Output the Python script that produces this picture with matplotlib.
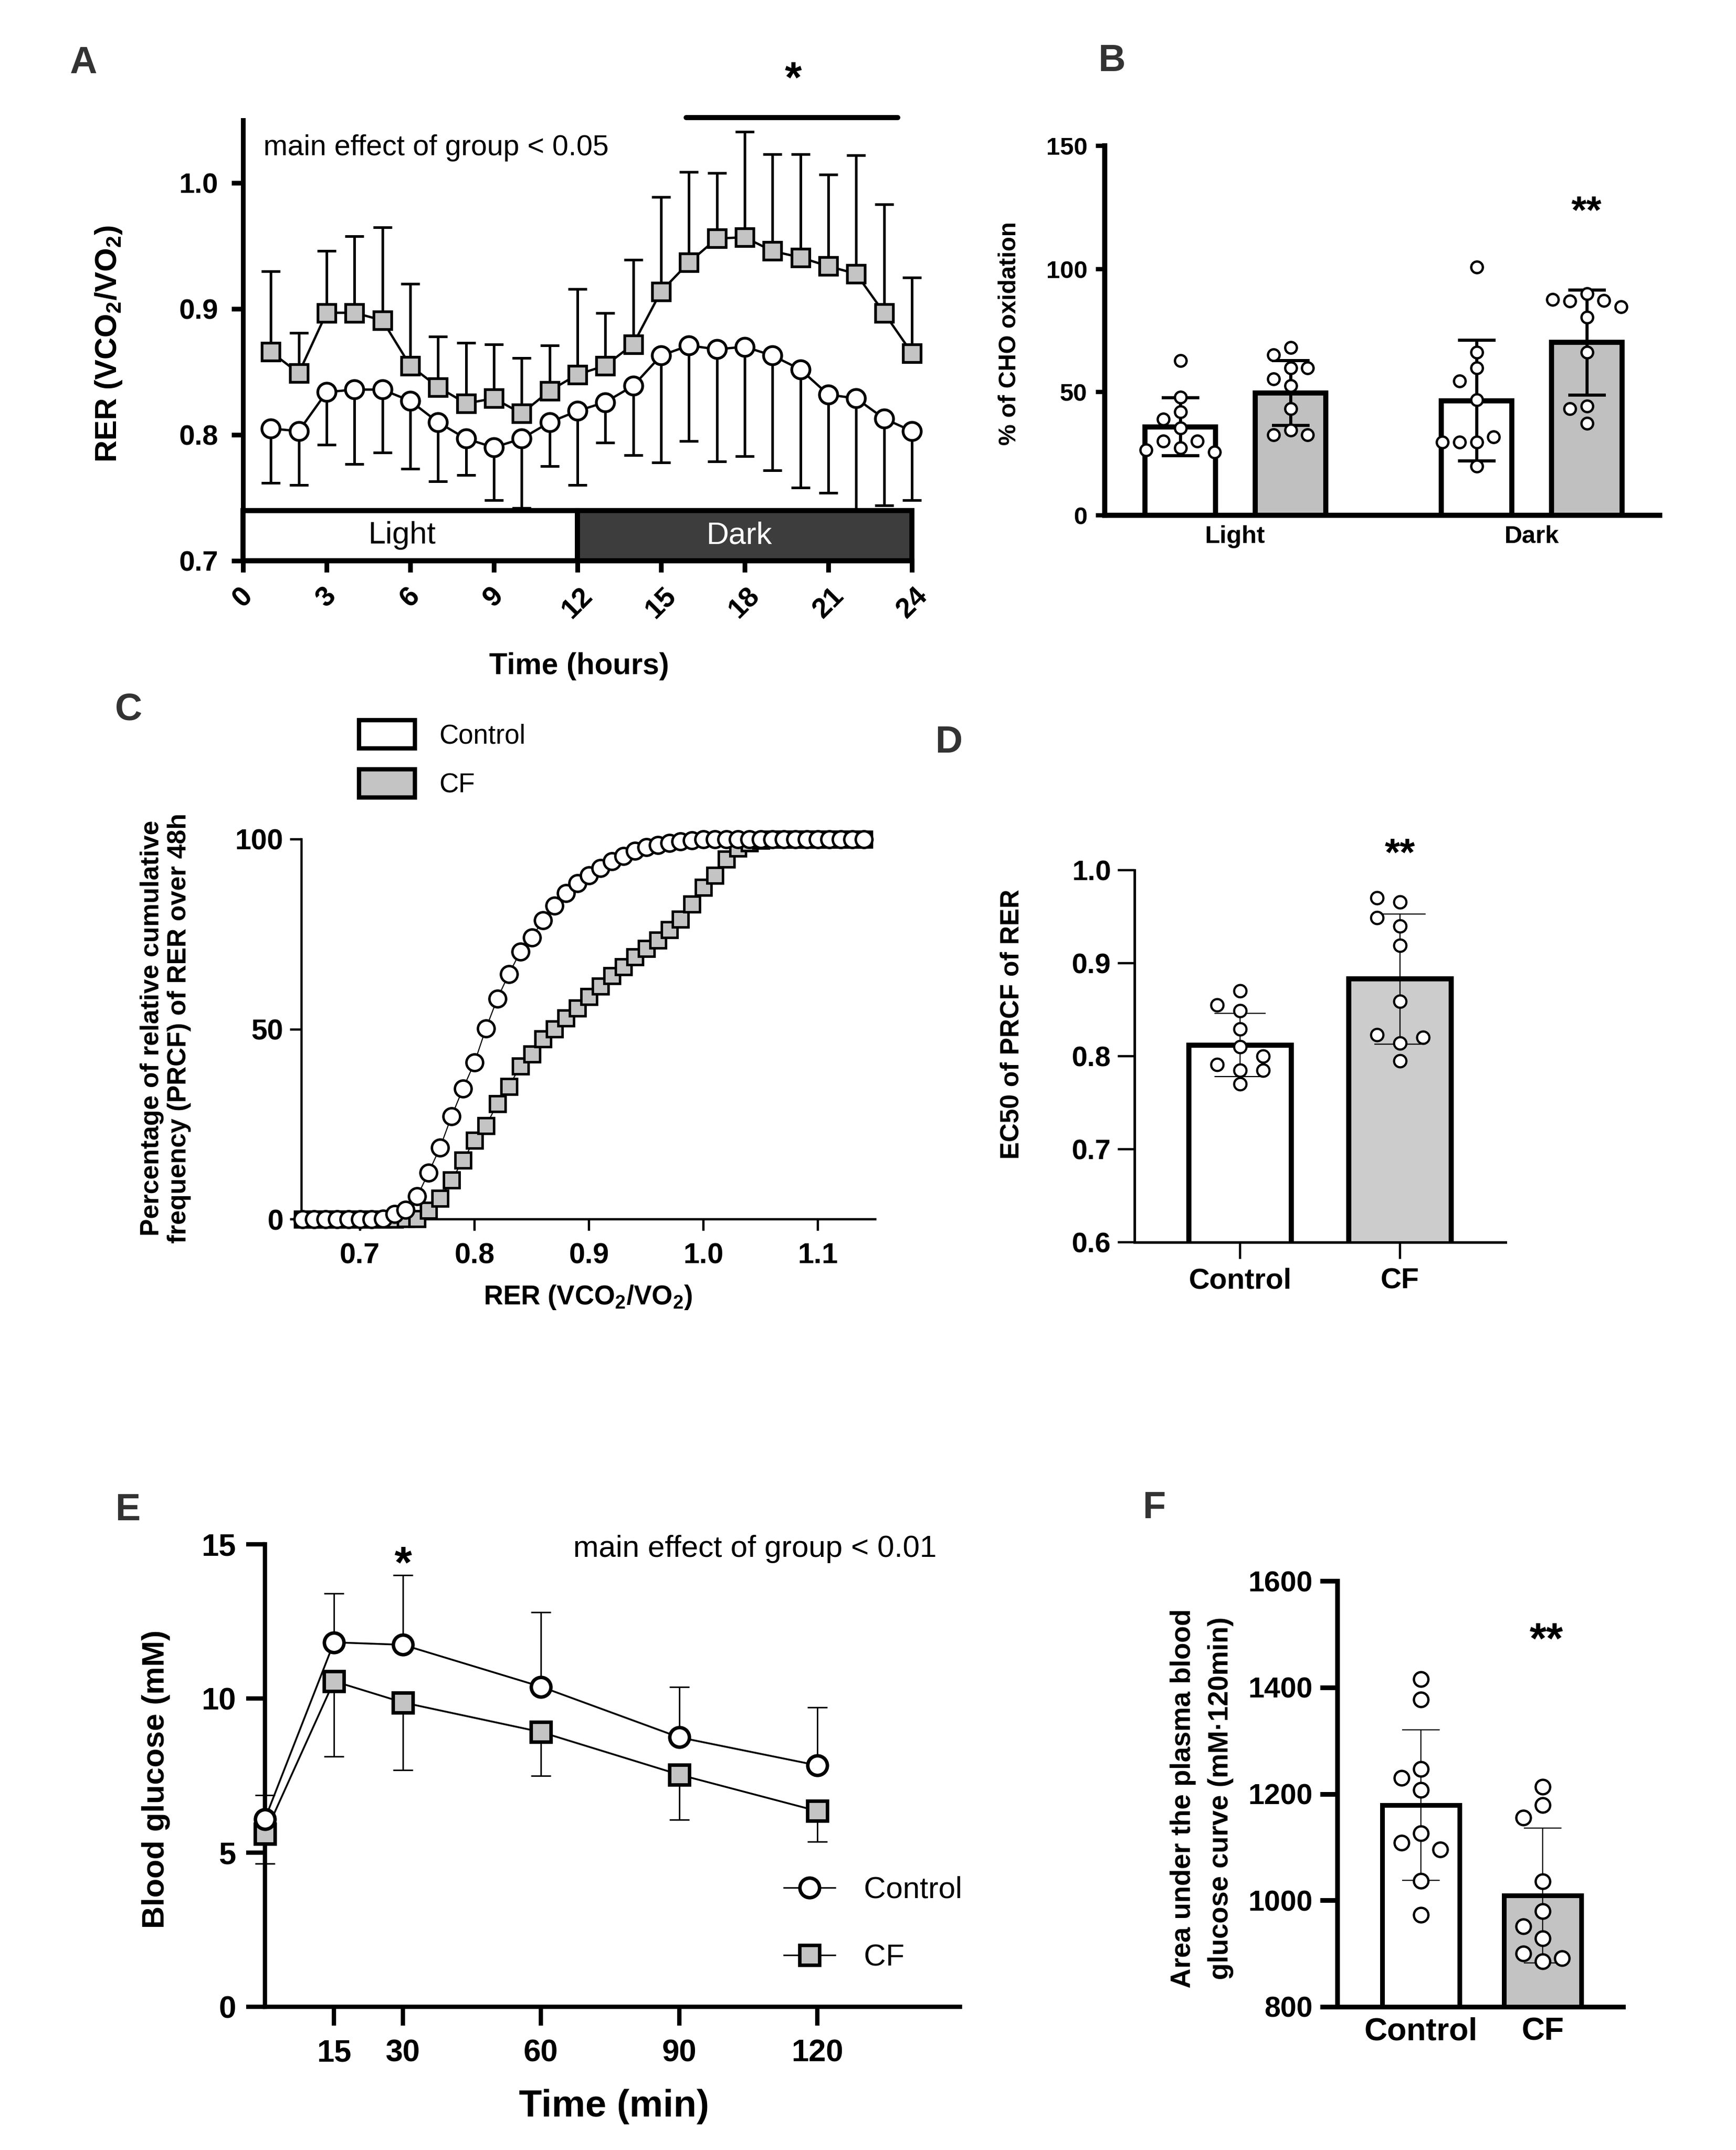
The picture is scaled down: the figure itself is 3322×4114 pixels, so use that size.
import numpy as np
import matplotlib
matplotlib.use("Agg")
import matplotlib.pyplot as plt
from matplotlib.patches import Rectangle, Patch
from matplotlib.lines import Line2D

plt.rcParams['font.family'] = ['Liberation Sans', 'DejaVu Sans']
plt.rcParams['mathtext.fontset'] = 'custom'
plt.rcParams['mathtext.rm'] = 'Liberation Sans'
plt.rcParams['mathtext.bf'] = 'Liberation Sans:bold'

# ---------------- data ----------------
# A: hourly RER
hours = list(range(1, 25))
cf_rer = [0.866, 0.849, 0.897, 0.897, 0.891, 0.855, 0.838, 0.825, 0.829, 0.817, 0.835, 0.848,
          0.855, 0.872, 0.914, 0.937, 0.956, 0.957, 0.946, 0.941, 0.934, 0.928, 0.897, 0.865]
cf_rer_sd = [0.064, 0.032, 0.049, 0.061, 0.074, 0.065, 0.040, 0.048, 0.043, 0.044, 0.036, 0.068,
             0.042, 0.067, 0.075, 0.072, 0.052, 0.084, 0.077, 0.082, 0.073, 0.094, 0.086, 0.060]
ctrl_rer = [0.805, 0.803, 0.834, 0.836, 0.836, 0.827, 0.810, 0.797, 0.790, 0.797, 0.810, 0.819,
            0.826, 0.839, 0.863, 0.871, 0.868, 0.870, 0.863, 0.852, 0.832, 0.829, 0.813, 0.803]
ctrl_rer_sd = [0.043, 0.043, 0.042, 0.059, 0.050, 0.054, 0.047, 0.029, 0.042, 0.055, 0.035, 0.059,
               0.032, 0.055, 0.085, 0.076, 0.089, 0.087, 0.091, 0.094, 0.078, 0.092, 0.069, 0.055]

# B: % CHO oxidation
phases = ['Light', 'Dark']
cho_ctrl_mean = [35.9, 46.5]
cho_ctrl_sd = [11.8, 24.5]
cho_cf_mean = [49.7, 70.2]
cho_cf_sd = [13.2, 21.3]
cho_ctrl_light = [62.8, 47.9, 42.1, 39.1, 35.4, 30.2, 30.2, 27.4, 26.5, 25.7]
cho_cf_light = [68.1, 65.1, 59.8, 59.8, 55.4, 52.7, 43.3, 34.5, 32.7, 32.7]
cho_ctrl_dark = [100.8, 66.3, 59.8, 54.5, 46.9, 29.7, 29.7, 31.8, 29.7, 20.0]
cho_cf_dark = [89.9, 86.9, 87.3, 87.7, 84.6, 80.5, 66.3, 44.4, 43.3, 37.3]

# C: cumulative frequency of RER
rer_bins = [0.65, 0.66, 0.67, 0.68, 0.69, 0.70, 0.71, 0.72, 0.73, 0.74,
            0.75, 0.76, 0.77, 0.78, 0.79, 0.80, 0.81, 0.82, 0.83, 0.84,
            0.85, 0.86, 0.87, 0.88, 0.89, 0.90, 0.91, 0.92, 0.93, 0.94,
            0.95, 0.96, 0.97, 0.98, 0.99, 1.00, 1.01, 1.02, 1.03, 1.04,
            1.05, 1.06, 1.07, 1.08, 1.09, 1.10, 1.11, 1.12, 1.13, 1.14]
prcf_ctrl = [0, 0, 0, 0, 0, 0, 0, 0.2, 1.4, 2.5,
             6.0, 12.3, 18.9, 27.1, 34.4, 41.2, 50.2, 58.1, 64.5, 70.4,
             74.2, 78.7, 82.5, 85.9, 88.5, 90.5, 92.4, 94.2, 95.6, 97.0,
             97.9, 98.5, 99.1, 99.4, 99.7, 100, 100, 100, 100, 100,
             100, 100, 100, 100, 100, 100, 100, 100, 100, 100]
prcf_cf = [0, 0, 0, 0, 0, 0, 0, 0, 0, 0.1,
           0.2, 2.3, 5.5, 10.3, 15.5, 20.8, 24.6, 30.4, 34.9, 40.3,
           43.5, 47.5, 50.1, 52.9, 55.6, 58.6, 61.3, 64.1, 66.4, 69.0,
           71.2, 73.5, 76.2, 79.0, 83.0, 87.3, 90.5, 94.8, 97.6, 99.1,
           99.7, 100, 100, 100, 100, 100, 100, 100, 100, 100]

# D: EC50
groups = ['Control', 'CF']
ec50_mean = [0.812, 0.883]
ec50_sd = [0.034, 0.070]
ec50_ctrl = [0.870, 0.849, 0.855, 0.829, 0.810, 0.785, 0.770, 0.791, 0.800, 0.785]
ec50_cf = [0.940, 0.919, 0.859, 0.814, 0.795, 0.823, 0.820, 0.949, 0.966, 0.970]

# E: glucose tolerance
gtt_time = [0, 15, 30, 60, 90, 120]
glu_ctrl = [6.09, 11.82, 11.74, 10.38, 8.74, 7.83]
glu_ctrl_sd = [0.78, 1.58, 2.26, 2.42, 1.63, 1.89]
glu_cf = [5.61, 10.56, 9.87, 8.91, 7.53, 6.35]
glu_cf_sd = [0.96, 2.44, 2.19, 1.41, 1.47, 1.00]

# F: AUC
auc_mean = [1179, 1009]
auc_sd = [141, 127]
auc_ctrl = [1415, 1377, 1247, 1230, 1207, 1126, 1108, 1095, 1037, 973]
auc_cf = [1213, 1179, 1155, 1036, 980, 951, 929, 900, 885, 891]

# ---------------- helpers ----------------
W, H = 3322, 4114
GRAY = '#c4c4c4'
fig = plt.figure(figsize=(W / 100, H / 100), dpi=100)


def add_ax(l, t, r, b):
    return fig.add_axes([l / W, 1 - b / H, (r - l) / W, (b - t) / H])


def clean(ax, lw, tlen, tw, size, pad):
    for s in ['top', 'right']:
        ax.spines[s].set_visible(False)
    for s in ['left', 'bottom']:
        ax.spines[s].set_linewidth(lw)
    ax.tick_params(length=tlen, width=tw, labelsize=size, direction='out', pad=pad)


def bold_ticks(ax):
    for t in ax.get_xticklabels() + ax.get_yticklabels():
        t.set_fontweight('bold')


def swarm(values, dy, dx):
    placed = []
    offs = []
    for v in values:
        for c in [0, -1, 1, -2, 2, -3, 3]:
            if all(abs(v - pv) >= dy or c != pc for pv, pc in placed):
                break
        placed.append((v, c))
        offs.append(c * dx)
    return np.array(offs)


def stars(ax, x, y, txt, size):
    ax.annotate(txt, (x, y), xytext=(0, -0.58 * size), textcoords='offset points',
                ha='center', va='baseline', fontsize=size, fontweight='bold',
                annotation_clip=False)


def panel_letter(txt, x, y):
    fig.text(x / W, 1 - y / H, txt, fontsize=52, fontweight='bold', color='#333333',
             ha='center', va='center')


zeros6 = np.zeros(6)
zeros24 = np.zeros(24)

# ---------------- A ----------------
ax = add_ax(465, 230, 1745, 1073)
ax.errorbar(hours, cf_rer, yerr=[zeros24, cf_rer_sd], fmt='none', ecolor='black',
            elinewidth=3.6, capsize=13, capthick=3.6, zorder=2, clip_on=False)
ax.errorbar(hours, ctrl_rer, yerr=[ctrl_rer_sd, zeros24], fmt='none', ecolor='black',
            elinewidth=3.6, capsize=13, capthick=3.6, zorder=2, clip_on=False)
ax.plot(hours, cf_rer, '-s', color='black', mfc=GRAY, mec='black', ms=25, mew=3.8,
        lw=3.2, zorder=4, clip_on=False)
ax.plot(hours, ctrl_rer, '-o', color='black', mfc='white', mec='black', ms=25, mew=3.8,
        lw=3.2, zorder=4, clip_on=False)
ax.add_patch(Rectangle((0, 0.7), 12, 0.04, facecolor='white', edgecolor='black', lw=7,
                       zorder=5, clip_on=False))
ax.add_patch(Rectangle((12, 0.7), 12, 0.04, facecolor='#3d3d3d', edgecolor='black', lw=7,
                       zorder=5, clip_on=False))
ax.text(5.7, 0.72, 'Light', ha='center', va='center', fontsize=43, zorder=6)
ax.text(17.8, 0.72, 'Dark', ha='center', va='center', fontsize=43, color='white', zorder=6)
ax.set_xlim(0, 24)
ax.set_ylim(0.7, 1.05)
clean(ax, 6.5, 16, 6.5, 39, 18)
ax.set_xticks(range(0, 25, 3))
ax.set_xticklabels([str(h) for h in range(0, 25, 3)], rotation=45, ha='center', va='top')
ax.set_yticks([0.7, 0.8, 0.9, 1.0])
ax.set_yticklabels(['0.7', '0.8', '0.9', '1.0'])
ax.tick_params(axis='x', pad=14)
bold_ticks(ax)
ax.text(0.73, 1.028, 'main effect of group < 0.05', fontsize=40, va='center', ha='left')
ax.plot([15.9, 23.5], [1.052, 1.052], color='black', lw=7, clip_on=False,
        solid_capstyle='round')
stars(ax, 19.75, 1.092, '*', 60)
ax.set_ylabel(r'RER (VCO$_\mathbf{2}$/VO$_\mathbf{2}$)', fontsize=42, fontweight='bold',
              va='center')
ax.yaxis.set_label_coords(-0.2008, 0.4923)
ax.set_xlabel('Time (hours)', fontsize=41, fontweight='bold', va='center')
ax.xaxis.set_label_coords(0.5023, -0.2396)
panel_letter('A', 159, 121)

# ---------------- B ----------------
axb = add_ax(2114, 279, 3176, 986)
gx = np.arange(len(phases))
off = 0.186
bw = 0.238
axb.bar(gx - off, cho_ctrl_mean, width=bw, color='white', edgecolor='black', lw=7, zorder=2)
axb.bar(gx + off, cho_cf_mean, width=bw, color='#c0c0c0', edgecolor='black', lw=7, zorder=2)
axb.errorbar(gx - off, cho_ctrl_mean, yerr=cho_ctrl_sd, fmt='none', ecolor='black',
             elinewidth=4.3, capsize=26, capthick=4.3, zorder=3)
axb.errorbar(gx + off, cho_cf_mean, yerr=cho_cf_sd, fmt='none', ecolor='black',
             elinewidth=4.3, capsize=26, capthick=4.3, zorder=3)
for xc, pts in [(gx[0] - off, cho_ctrl_light), (gx[0] + off, cho_cf_light),
                (gx[1] - off, cho_ctrl_dark), (gx[1] + off, cho_cf_dark)]:
    axb.plot(xc + swarm(pts, 5.5, 0.058), pts, 'o', mfc='white', mec='black', ms=16, mew=3.2,
             zorder=4, clip_on=False)
axb.set_xlim(-0.441, 1.432)
axb.set_ylim(0, 150)
clean(axb, 7, 12, 6, 34, 12)
axb.set_yticks([0, 50, 100, 150])
axb.set_xticks(gx)
axb.set_xticklabels(phases, fontsize=34)
axb.tick_params(axis='x', length=0, pad=14)
bold_ticks(axb)
stars(axb, gx[1] + off, 128, '**', 54)
axb.set_ylabel('% of CHO oxidation', fontsize=33, fontweight='bold', va='center')
axb.yaxis.set_label_coords(-0.1714, 0.4922)
panel_letter('B', 2127, 117)

# ---------------- C ----------------
axc = add_ax(577, 1606, 1675, 2333)
axc.plot(rer_bins, prcf_cf, '-s', color='black', mfc=GRAY, mec='black', ms=22, mew=3.4,
         lw=1.5, zorder=3, clip_on=False)
axc.plot(rer_bins, prcf_ctrl, '-o', color='black', mfc='white', mec='black', ms=23, mew=3.4,
         lw=1.5, zorder=4, clip_on=False)
axc.set_xlim(0.649, 1.15)
axc.set_ylim(0, 100)
clean(axc, 3.2, 16, 3.2, 40, 9)
axc.tick_params(axis='x', pad=16)
axc.set_xticks([0.7, 0.8, 0.9, 1.0, 1.1])
axc.set_xticklabels(['0.7', '0.8', '0.9', '1.0', '1.1'])
axc.set_yticks([0, 50, 100])
bold_ticks(axc)
axc.set_ylabel('Percentage of relative cumulative\nfrequency (PRCF) of RER over 48h',
               fontsize=36, fontweight='bold', va='center', linespacing=1.18)
axc.yaxis.set_label_coords(-0.2368, 0.5034)
axc.set_xlabel(r'RER (VCO$_\mathbf{2}$/VO$_\mathbf{2}$)', fontsize=37, fontweight='bold',
               va='center')
axc.xaxis.set_label_coords(0.4991, -0.2063)
fig.legend(handles=[Patch(facecolor='white', edgecolor='black', lw=6),
                    Patch(facecolor=GRAY, edgecolor='black', lw=6)],
           labels=groups, loc='upper left', bbox_to_anchor=(687 / W, 1 - 1378 / H),
           frameon=False, fontsize=37, handlelength=2.08, handleheight=1.24,
           handletextpad=0.9, labelspacing=0.75, borderpad=0, borderaxespad=0)
panel_letter('C', 246, 1358)

# ---------------- D ----------------
axd = add_ax(2171, 1665, 2881, 2377)
dx = np.arange(len(groups))
axd.bar(dx, ec50_mean, width=0.64, color=['white', '#cccccc'], edgecolor='black', lw=7,
        zorder=2)
axd.errorbar(dx, ec50_mean, yerr=ec50_sd, fmt='none', ecolor='black', elinewidth=1.6,
             capsize=35, capthick=1.6, zorder=3)
for xc, pts in [(dx[0], ec50_ctrl), (dx[1], ec50_cf)]:
    axd.plot(xc + swarm(pts, 0.014, 0.143), pts, 'o', mfc='white', mec='black', ms=17,
             mew=3, zorder=4, clip_on=False)
axd.set_xlim(-0.66, 1.66)
axd.set_ylim(0.6, 1.0)
clean(axd, 3.5, 23, 3.2, 39, 9)
axd.tick_params(axis='x', pad=12)
axd.set_yticks([0.6, 0.7, 0.8, 0.9, 1.0])
axd.set_yticklabels(['0.6', '0.7', '0.8', '0.9', '1.0'])
axd.set_xticks(dx)
axd.set_xticklabels(groups, fontsize=40)
bold_ticks(axd)
stars(axd, dx[1], 1.030, '**', 54)
axd.set_ylabel('EC50 of PRCF of RER', fontsize=36, fontweight='bold', va='center')
axd.yaxis.set_label_coords(-0.3296, 0.5857)
panel_letter('D', 1815, 1421)

# ---------------- E ----------------
axe = add_ax(507, 2955, 1837, 3840)
axe.errorbar(gtt_time, glu_ctrl, yerr=[zeros6, glu_ctrl_sd], fmt='none', ecolor='black',
             elinewidth=2, capsize=13.5, capthick=2, zorder=2, clip_on=False)
axe.errorbar(gtt_time, glu_cf, yerr=[glu_cf_sd, zeros6], fmt='none', ecolor='black',
             elinewidth=2, capsize=13.5, capthick=2, zorder=2, clip_on=False)
axe.plot(gtt_time, glu_cf, '-s', color='black', mfc=GRAY, mec='black', ms=27, mew=4.8,
         lw=2.5, zorder=3, clip_on=False)
axe.plot(gtt_time, glu_ctrl, '-o', color='black', mfc='white', mec='black', ms=27, mew=4.8,
         lw=2.5, zorder=4, clip_on=False)
axe.set_xlim(0, 151)
axe.set_ylim(0, 15)
clean(axe, 6, 26, 6, 43, 14)
axe.tick_params(axis='x', pad=18)
axe.set_xticks([15, 30, 60, 90, 120])
axe.set_yticks([0, 5, 10, 15])
bold_ticks(axe)
stars(axe, 30, 14.77, '*', 62)
axe.text(67, 14.85, 'main effect of group < 0.01', fontsize=42, va='center', ha='left')
axe.set_ylabel('Blood glucose (mM)', fontsize=43, fontweight='bold', va='center')
axe.yaxis.set_label_coords(-0.1571, 0.4927)
axe.set_xlabel('Time (min)', fontsize=52, fontweight='bold', va='center')
axe.xaxis.set_label_coords(0.5023, -0.2158)
fig.legend(handles=[Line2D([], [], color='black', lw=2, marker='o', ms=27, mfc='white',
                           mec='black', mew=4.8),
                    Line2D([], [], color='black', lw=2, marker='s', ms=27, mfc=GRAY,
                           mec='black', mew=4.8)],
           labels=groups, loc='upper left', bbox_to_anchor=(1500 / W, 1 - 3590 / H),
           frameon=False, fontsize=42, handlelength=1.68, handletextpad=0.95,
           labelspacing=1.3, borderpad=0, borderaxespad=0)
panel_letter('E', 244, 2890)

# ---------------- F ----------------
axf = add_ax(2559, 3025, 3106, 3840)
fx = np.arange(len(groups))
axf.bar(fx, [m - 800 for m in auc_mean], bottom=800, width=0.635,
        color=['white', '#c3c3c3'], edgecolor='black', lw=6.5, zorder=2)
axf.errorbar(fx, auc_mean, yerr=auc_sd, fmt='none', ecolor='black', elinewidth=1.6,
             capsize=26, capthick=1.6, zorder=3)
for xc, pts in [(fx[0], auc_ctrl), (fx[1], auc_cf)]:
    axf.plot(xc + swarm(pts, 32, 0.16), pts, 'o', mfc='white', mec='black', ms=20, mew=3.2,
             zorder=4, clip_on=False)
axf.set_xlim(-0.687, 1.66)
axf.set_ylim(800, 1600)
clean(axf, 6.5, 24, 6.5, 40, 10)
axf.set_yticks([800, 1000, 1200, 1400, 1600])
axf.set_xticks(fx)
axf.set_xticklabels(groups, fontsize=44)
axf.tick_params(axis='x', length=0, pad=14)
bold_ticks(axf)
stars(axf, fx[1] + 0.03, 1511, '**', 60)
axf.set_ylabel('Area under the plasma blood\nglucose curve (mM\u00b7120min)', fontsize=38,
               fontweight='bold', va='center', linespacing=1.55)
axf.yaxis.set_label_coords(-0.4735, 0.4896)
panel_letter('F', 2208, 2886)

fig.savefig('out.png', dpi=100)
